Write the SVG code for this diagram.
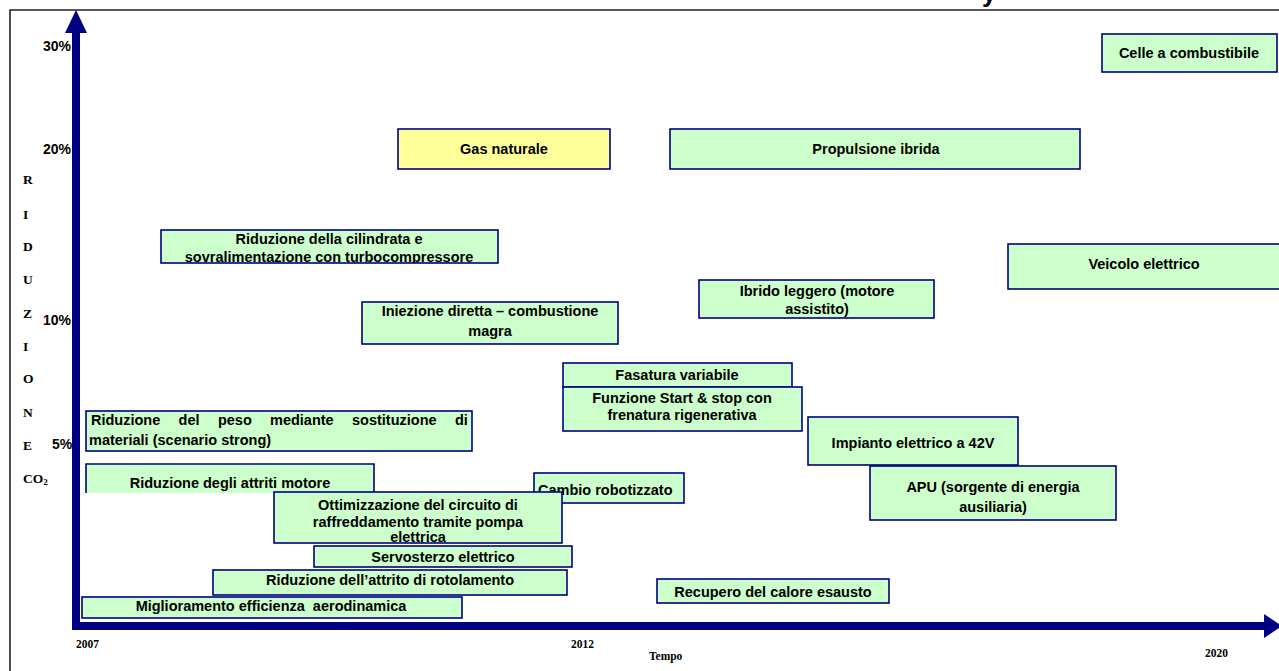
<svg xmlns="http://www.w3.org/2000/svg" width="1279" height="671" viewBox="0 0 1279 671">
<style>
.box{fill:#CCFFCC;stroke:#000080;stroke-width:1.6}
.yel{fill:#FFFF99;stroke:#000080;stroke-width:1.6}
.t{font-family:"Liberation Sans",Arial,sans-serif;font-weight:bold;font-size:14.5px;fill:#000;text-anchor:middle}
.tl{font-family:"Liberation Sans",Arial,sans-serif;font-weight:bold;font-size:14.5px;fill:#000}
.pct{font-family:"Liberation Sans",Arial,sans-serif;font-weight:bold;font-size:14px;fill:#000}
.s{font-family:"Liberation Serif","Times New Roman",serif;font-weight:bold;font-size:13.5px;fill:#000}
.ax{fill:#000080}
</style>
<defs>
<clipPath id="c4"><rect x="160" y="230" width="339" height="33"/></clipPath>
</defs>
<rect x="0" y="0" width="1279" height="671" fill="#fff"/>
<g id="frame">
<path d="M10 671 V10 H1279" fill="none" stroke="#222" stroke-width="1.6"/>
<text x="982" y="2" font-family="Liberation Sans,Arial,sans-serif" font-weight="bold" font-size="26">y</text>
</g>
<g id="axes">
<rect class="ax" x="72" y="30" width="8" height="600"/>
<polygon class="ax" points="65,33 76,10 87,33"/>
<rect class="ax" x="72" y="622" width="1194" height="8"/>
<polygon class="ax" points="1264,614 1282,626 1264,638"/>
</g>
<g id="labels">
<text class="pct" x="43" y="51">30%</text>
<text class="pct" x="43" y="154">20%</text>
<text class="pct" x="43" y="325">10%</text>
<text class="pct" x="52" y="449">5%</text>
<text class="s" x="23" y="184">R</text>
<text class="s" x="23" y="219">I</text>
<text class="s" x="23" y="251">D</text>
<text class="s" x="23" y="284">U</text>
<text class="s" x="23" y="318">Z</text>
<text class="s" x="23" y="351">I</text>
<text class="s" x="23" y="383">O</text>
<text class="s" x="23" y="417">N</text>
<text class="s" x="23" y="450">E</text>
<text class="s" x="23" y="483">CO<tspan font-size="9" dy="2">2</tspan></text>
<text class="s" x="76" y="648" font-size="13" transform="translate(76 648) scale(0.85 1) translate(-76 -648)">2007</text>
<text class="s" x="571" y="648" font-size="13" transform="translate(571 648) scale(0.85 1) translate(-571 -648)">2012</text>
<text class="s" x="649" y="660" font-size="13" transform="translate(649 660) scale(0.85 1) translate(-649 -660)">Tempo</text>
<text class="s" x="1205" y="657" font-size="13" transform="translate(1205 657) scale(0.85 1) translate(-1205 -657)">2020</text>
</g>
<g id="n-celle"><rect class="box" x="1102" y="34" width="175" height="38"/><text class="t" x="1189" y="58">Celle a combustibile</text></g>
<g id="n-gas"><rect class="yel" x="398" y="129" width="212" height="40"/><text class="t" x="504" y="154">Gas naturale</text></g>
<g id="n-propulsione"><rect class="box" x="670" y="129" width="410" height="40"/><text class="t" x="876" y="154">Propulsione ibrida</text></g>
<g id="n-cilindrata"><rect class="box" x="161" y="230" width="337" height="33"/><g clip-path="url(#c4)"><text class="t" x="329" y="244">Riduzione della cilindrata e</text><text class="t" x="329" y="262">sovralimentazione con turbocompressore</text></g></g>
<g id="n-veicolo"><rect class="box" x="1008" y="244" width="280" height="45"/><text class="t" x="1144" y="269">Veicolo elettrico</text></g>
<g id="n-ibrido"><rect class="box" x="699" y="280" width="235" height="38"/><text class="t" x="817" y="296">Ibrido leggero (motore</text><text class="t" x="817" y="314">assistito)</text></g>
<g id="n-iniezione"><rect class="box" x="362" y="302" width="256" height="42"/><text class="t" x="490" y="316">Iniezione diretta – combustione</text><text class="t" x="490" y="336">magra</text></g>
<g id="n-fasatura"><rect class="box" x="563" y="363" width="229" height="24"/><text class="t" x="677" y="380">Fasatura variabile</text></g>
<g id="n-startstop"><rect class="box" x="563" y="387" width="239" height="44"/><text class="t" x="682" y="403">Funzione Start &amp; stop con</text><text class="t" x="682" y="420">frenatura rigenerativa</text></g>
<g id="n-peso"><rect class="box" x="86" y="411" width="386" height="40"/><text class="tl" y="425"><tspan x="91">Riduzione</tspan><tspan x="178.6">del</tspan><tspan x="217.9">peso</tspan><tspan x="270">mediante</tspan><tspan x="352">sostituzione</tspan><tspan x="455">di</tspan></text><text class="tl" x="89" y="445">materiali (scenario strong)</text></g>
<g id="n-42v"><rect class="box" x="808" y="417" width="210" height="48"/><text class="t" x="913" y="448">Impianto elettrico a 42V</text></g>
<g id="n-attriti"><rect x="86" y="464" width="288" height="29" fill="#CCFFCC"/><path d="M86 493 V464 H374 V493" fill="none" stroke="#000080" stroke-width="1.6"/><text class="t" x="230" y="488">Riduzione degli attriti motore</text></g>
<g id="n-apu"><rect class="box" x="870" y="466" width="246" height="54"/><text class="t" x="993" y="492">APU (sorgente di energia</text><text class="t" x="993" y="512">ausiliaria)</text></g>
<g id="n-cambio"><rect class="box" x="534" y="473" width="150" height="30"/><text class="tl" x="538" y="495">Cambio robotizzato</text></g>
<g id="n-ottimizzazione"><rect class="box" x="274" y="492" width="288" height="51" stroke-width="1"/><text class="t" x="418" y="510">Ottimizzazione del circuito di</text><text class="t" x="418" y="527">raffreddamento tramite pompa</text><text class="t" x="418" y="542">elettrica</text></g>
<g id="n-servosterzo"><rect class="box" x="314" y="546" width="258" height="21"/><text class="t" x="443" y="562">Servosterzo elettrico</text></g>
<g id="n-rotolamento"><rect class="box" x="213" y="570" width="354" height="25"/><text class="t" x="390" y="585">Riduzione dell’attrito di rotolamento</text></g>
<g id="n-recupero"><rect class="box" x="657" y="579" width="232" height="24"/><text class="t" x="773" y="597">Recupero del calore esausto</text></g>
<g id="n-aerodinamica"><rect class="box" x="82" y="597" width="380" height="21"/><text class="t" x="271" y="611">Miglioramento efficienza&#160; aerodinamica</text></g>
<g id="connectors"></g>
</svg>
